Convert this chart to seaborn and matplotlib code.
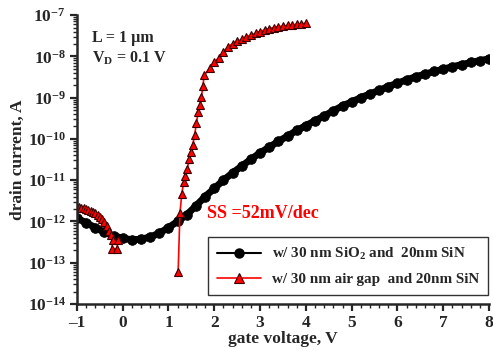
import numpy as np
import pandas as pd
import matplotlib.pyplot as plt
import seaborn as sns
from matplotlib.lines import Line2D
from matplotlib.ticker import FixedLocator, FuncFormatter, NullFormatter

# w/ 30 nm SiO2 and 20nm SiN (black circles)
vg_sio2 = [-1.0, -0.8, -0.6, -0.4, -0.2, 0.0, 0.2, 0.4, 0.6, 0.8,
           1.0, 1.2, 1.4, 1.6, 1.8, 2.0, 2.2, 2.4, 2.6, 2.8,
           3.0, 3.2, 3.4, 3.6, 3.8, 4.0, 4.2, 4.4, 4.6, 4.8,
           5.0, 5.2, 5.4, 5.6, 5.8, 6.0, 6.2, 6.4, 6.6, 6.8,
           7.0, 7.2, 7.4, 7.6, 7.8, 8.0]
id_sio2 = [1.2e-12, 9.3e-13, 7.1e-13, 5.5e-13, 4.5e-13, 3.9e-13, 3.6e-13, 3.7e-13, 4.2e-13, 5.2e-13,
           7.1e-13, 1.0e-12, 1.45e-12, 2.4e-12, 4.0e-12, 6.3e-12, 1.0e-11, 1.5e-11, 2.2e-11, 3.2e-11,
           4.6e-11, 6.3e-11, 8.7e-11, 1.17e-10, 1.6e-10, 2.1e-10, 2.75e-10, 3.6e-10, 4.8e-10, 6.3e-10,
           7.9e-10, 1.0e-9, 1.23e-9, 1.5e-9, 1.86e-9, 2.24e-9, 2.7e-9, 3.2e-9, 3.7e-9, 4.3e-9,
           4.9e-9, 5.6e-9, 6.3e-9, 7.1e-9, 7.9e-9, 8.7e-9]

# w/ 30 nm air gap and 20nm SiN (red triangles), two measured segments
vg_air_1 = [-1.0, -0.95, -0.9, -0.85, -0.8, -0.75, -0.7, -0.65, -0.6, -0.55,
            -0.5, -0.45, -0.4, -0.35, -0.3, -0.25, -0.21, -0.24, -0.13, -0.10]
id_air_1 = [2.3e-12, 2.2e-12, 2.14e-12, 2.1e-12, 2.0e-12, 1.9e-12, 1.8e-12, 1.74e-12, 1.6e-12, 1.4e-12,
            1.26e-12, 1.15e-12, 9.5e-13, 7.6e-13, 6.0e-13, 4.7e-13, 3.5e-13, 2.2e-13, 2.2e-13, 3.5e-13]
vg_air_2 = [1.21, 1.25, 1.29, 1.33, 1.37, 1.41, 1.45, 1.49, 1.53, 1.57,
            1.61, 1.65, 1.69, 1.72, 1.75, 1.78, 1.9, 2.0, 2.1, 2.2,
            2.3, 2.4, 2.5, 2.6, 2.7, 2.8, 2.9, 3.0, 3.1, 3.2,
            3.3, 3.4, 3.5, 3.6, 3.7, 3.8, 3.9, 4.0]
id_air_2 = [5.8e-14, 1.6e-12, 4.6e-12, 8.9e-12, 1.26e-11, 1.9e-11, 3.2e-11, 4.7e-11, 7.1e-11, 1.26e-10,
            2.4e-10, 4.6e-10, 6.6e-10, 1.05e-9, 1.9e-9, 3.5e-9, 5.2e-9, 7.2e-9, 9.3e-9, 1.29e-8,
            1.7e-8, 2.04e-8, 2.3e-8, 2.57e-8, 2.95e-8, 3.3e-8, 3.6e-8, 4.0e-8, 4.4e-8, 4.7e-8,
            5.0e-8, 5.25e-8, 5.4e-8, 5.6e-8, 5.75e-8, 6.0e-8, 6.2e-8, 6.3e-8]

decades = list(range(-14, -6))   # y tick exponents 10^-14 .. 10^-7
x_ticks = list(range(-1, 9))

label_sio2 = r"w/ 30 nm SiO$_2$ and  20nm SiN"
label_air = "w/ 30 nm air gap  and 20nm SiN"

df_sio2 = pd.DataFrame({"vg": vg_sio2, "id": id_sio2, "seg": 0})
df_air = pd.concat([
    pd.DataFrame({"vg": vg_air_1, "id": id_air_1, "seg": 0}),
    pd.DataFrame({"vg": vg_air_2, "id": id_air_2, "seg": 1}),
], ignore_index=True)

sns.set_style("ticks")
plt.rcParams["font.family"] = ["Liberation Serif", "DejaVu Serif"]
plt.rcParams["font.weight"] = "bold"
plt.rcParams["axes.labelweight"] = "bold"
plt.rcParams["mathtext.fontset"] = "custom"
plt.rcParams["mathtext.rm"] = "Liberation Serif:bold"
plt.rcParams["mathtext.it"] = "Liberation Serif:italic:bold"
plt.rcParams["mathtext.bf"] = "Liberation Serif:bold"
plt.rcParams["mathtext.default"] = "rm"

fig = plt.figure(figsize=(4.93, 3.51), dpi=100)
ax = fig.add_axes([0.156, 0.134, 0.836, 0.823])

sns.lineplot(data=df_sio2, x="vg", y="id", units="seg", estimator=None, sort=False,
             color="black", lw=5, marker="o", markersize=7, mec="black", mew=0.5,
             ax=ax)
sns.lineplot(data=df_air, x="vg", y="id", units="seg", estimator=None, sort=False,
             color="red", lw=1.2, marker="^", markersize=6.3, mfc="red",
             mec="#3a0000", mew=0.8, ax=ax)

ax.set_yscale("log")
ax.set_xlim(-1, 8)
ax.set_ylim(1e-14, 1e-7)

major_y = [10.0 ** d for d in decades]
minor_y = [m * 10.0 ** d for d in decades[:-1] for m in range(2, 10)]
ax.xaxis.set_major_locator(FixedLocator(x_ticks))
ax.xaxis.set_minor_locator(FixedLocator(np.arange(-1, 8.01, 0.2)))
ax.yaxis.set_major_locator(FixedLocator(major_y))
ax.yaxis.set_minor_locator(FixedLocator(minor_y))
ax.yaxis.set_major_formatter(FuncFormatter(lambda v, p: r"$10^{%d}$" % round(np.log10(v))))
ax.yaxis.set_minor_formatter(NullFormatter())
ax.xaxis.set_major_formatter(FuncFormatter(lambda v, p: "\u2013%d" % -v if v < 0 else "%d" % v))

ax.tick_params(which="major", direction="out", length=5, width=1.6, labelsize=12.5, pad=3)
ax.tick_params(which="minor", direction="out", length=3, width=1.0)
for lab in ax.get_xticklabels() + ax.get_yticklabels():
    lab.set_fontweight("bold")

sns.despine(ax=ax)
for s in ["left", "bottom"]:
    ax.spines[s].set_linewidth(1.8)

ax.set_xlabel("gate voltage, V", fontsize=12.5, fontweight="bold", labelpad=0)
ax.set_ylabel("drain current, A", fontsize=12.5, fontweight="bold", labelpad=1)

ax.text(0.036, 0.92, "L = 1 \u00b5m", transform=ax.transAxes, fontsize=11.5,
        fontweight="bold", va="center", ha="left")
ax.text(0.036, 0.851, r"V$_{D}$ = 0.1 V", transform=ax.transAxes, fontsize=11.5,
        fontweight="bold", va="center", ha="left")
ax.text(1.84, 1.6e-12, "SS =52mV/dec", color="red", fontsize=13,
        fontweight="bold", va="center", ha="left")

handles = [
    Line2D([], [], color="black", lw=1.5, marker="o", markersize=6.5, mec="black"),
    Line2D([], [], color="red", lw=1.2, marker="^", markersize=6.5, mfc="red", mec="#3a0000", mew=0.8),
]
leg = ax.legend(handles, [label_sio2, label_air], loc="lower right",
                bbox_to_anchor=(0.998, 0.031), borderaxespad=0, fancybox=False,
                framealpha=1, edgecolor="#333333", handlelength=2.9,
                handletextpad=0.7, borderpad=0.6, labelspacing=0.65,
                prop={"weight": "bold", "size": 10.9})
leg.get_frame().set_linewidth(1.0)

fig.savefig("out.png", dpi=100)
